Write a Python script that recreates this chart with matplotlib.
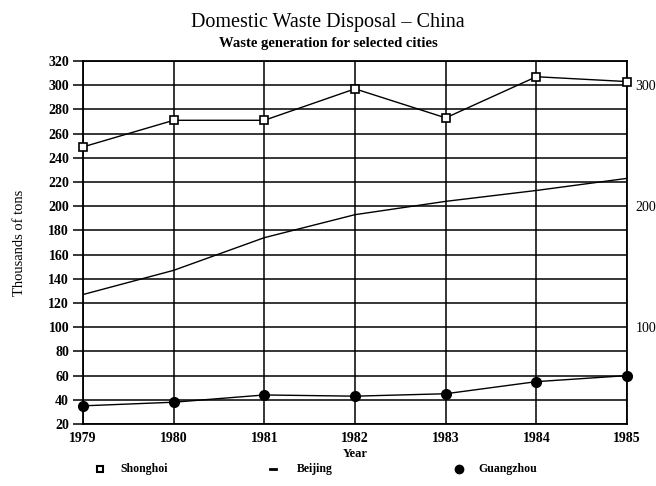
import matplotlib
matplotlib.use("Agg")
import matplotlib.pyplot as plt
from matplotlib.lines import Line2D

years = [1979, 1980, 1981, 1982, 1983, 1984, 1985]
shanghai = [249, 271, 271, 297, 273, 307, 303]
beijing = [127, 147, 174, 193, 204, 213, 223]
guangzhou = [35, 38, 44, 43, 45, 55, 60]
left_ticks = list(range(20, 321, 20))
right_ticks = [100, 200, 300]
legend_labels = ["Shonghoi", "Beijing", "Guangzhou"]

plt.rcParams['font.family'] = ['Liberation Serif', 'DejaVu Serif']

fig = plt.figure(figsize=(6.56, 4.86), dpi=100)
ax = fig.add_axes([83/656, 1-424/486, (627-83)/656, (424-61)/486])

for y in left_ticks:
    ax.axhline(y, color='black', lw=1.1, zorder=1)
for x in years:
    ax.axvline(x, color='black', lw=1.1, zorder=1)

ax.plot(years, shanghai, color='black', lw=1.0, marker='s', ms=6,
        mfc='white', mec='black', mew=1.2, zorder=3, clip_on=False)
ax.plot(years, beijing, color='black', lw=1.0, zorder=3)
ax.plot(years, guangzhou, color='black', lw=1.0, marker='o', ms=7,
        mfc='black', mec='black', zorder=3, clip_on=False)

ax.set_xlim(1979, 1985)
ax.set_ylim(20, 320)
ax.set_xticks(years)
ax.set_yticks(left_ticks)
ax.tick_params(axis='y', direction='out', length=7, width=1.1, labelsize=10, pad=3)
ax.tick_params(axis='x', length=0, labelsize=10, pad=6)
for lab in ax.get_xticklabels() + ax.get_yticklabels():
    lab.set_fontweight('bold')
for s in ax.spines.values():
    s.set_linewidth(1.3)

ax2 = ax.twinx()
ax2.set_ylim(20, 320)
ax2.set_yticks(right_ticks)
ax2.tick_params(axis='y', length=0, labelsize=10, pad=6)
for s in ax2.spines.values():
    s.set_visible(False)

ax.set_ylabel("Thousands of tons", fontsize=10.5, labelpad=16)
ax.set_xlabel("Year", fontsize=9, fontweight='bold', labelpad=2)

fig.text(0.5, 1-22/486, "Domestic Waste Disposal – China", ha='center', va='center', fontsize=14.5)
fig.text(0.5, 1-43/486, "Waste generation for selected cities", ha='center', va='center',
         fontsize=10.5, fontweight='bold')

# legend row
ly = 1 - 469/486
fig.add_artist(Line2D([100/656], [ly], marker='s', ms=5, mfc='white', mec='black', mew=1.5,
                      ls='none', transform=fig.transFigure))
fig.text(120/656, ly, legend_labels[0], va='center', fontsize=8.5, fontweight='bold')
fig.add_artist(Line2D([270/656, 276/656], [ly, ly], color='black', lw=2,
                      transform=fig.transFigure))
fig.text(297/656, ly, legend_labels[1], va='center', fontsize=8.5, fontweight='bold')
fig.add_artist(Line2D([459/656], [ly], marker='o', ms=6, mfc='black', mec='black',
                      ls='none', transform=fig.transFigure))
fig.text(478/656, ly, legend_labels[2], va='center', fontsize=8.5, fontweight='bold')

fig.savefig("out.png", dpi=100)
